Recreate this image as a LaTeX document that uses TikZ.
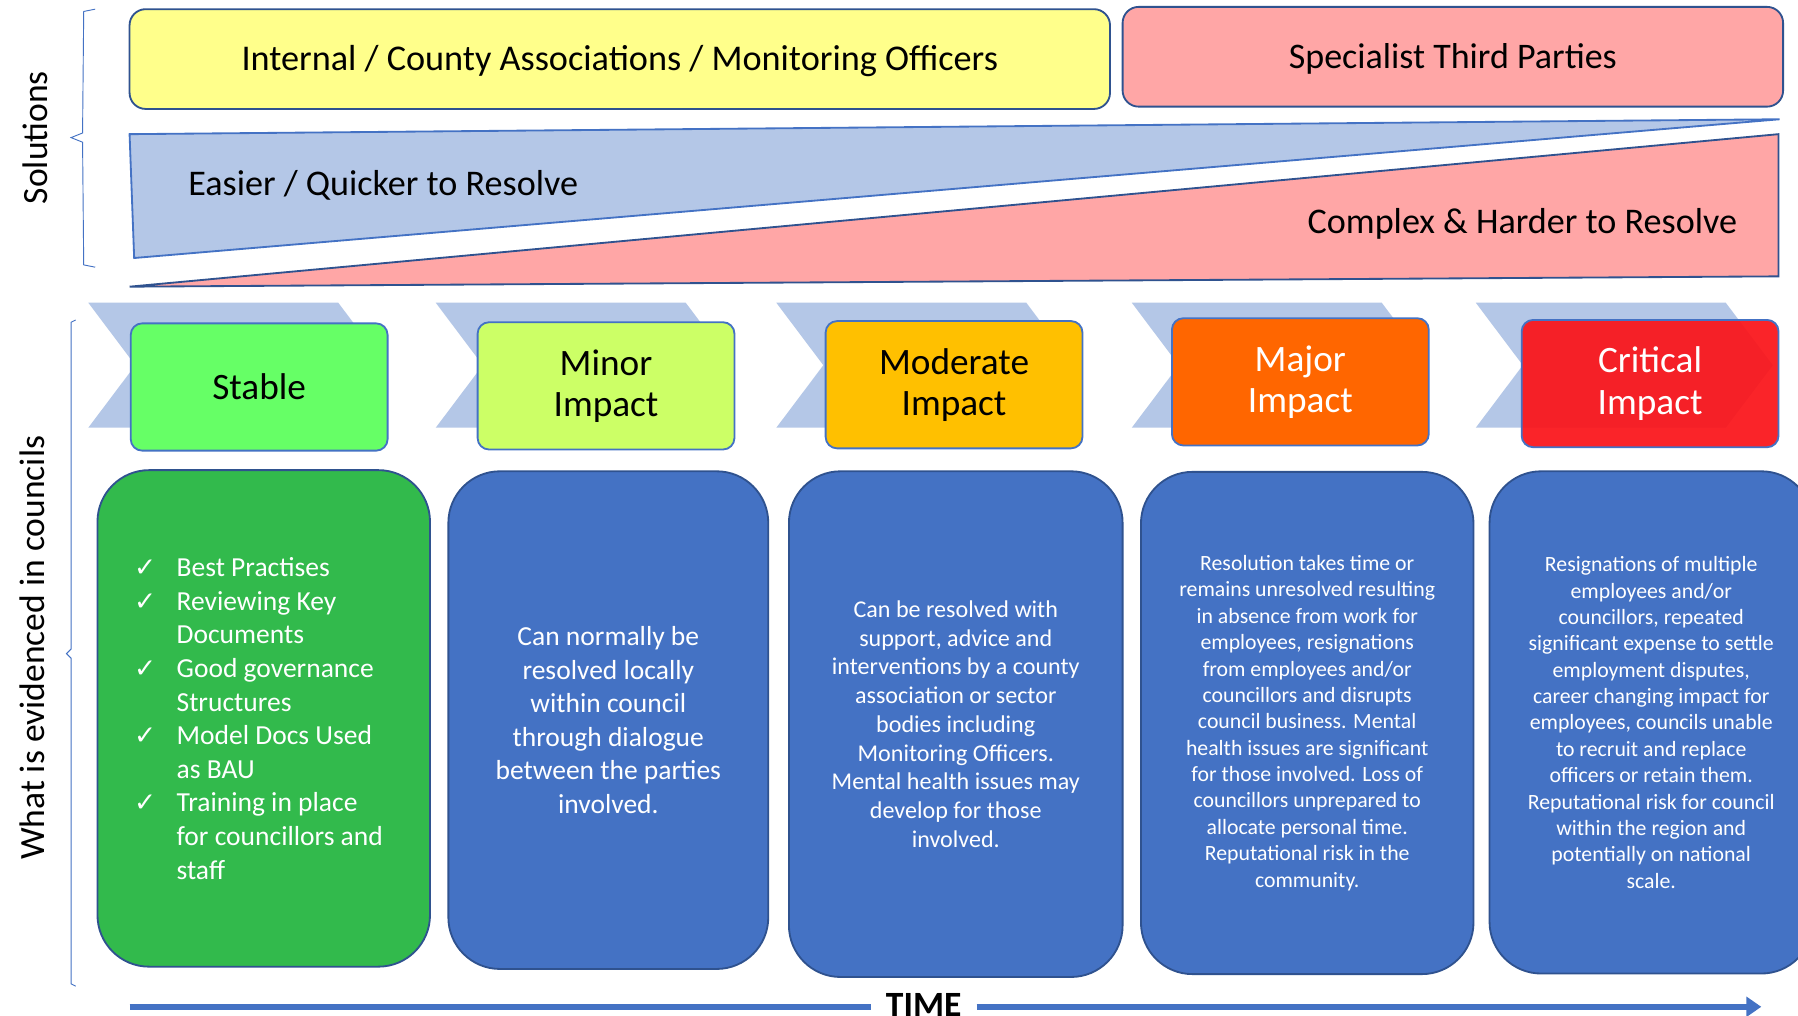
\documentclass[tikz,border=0pt]{standalone}
\usepackage{fontspec}
\setmainfont{Carlito}
\newfontfamily\symfont{DejaVu Sans}
\usetikzlibrary{arrows.meta}
\definecolor{dkblue}{HTML}{2F528F}
\definecolor{midblue}{HTML}{4472C4}
\definecolor{lightblue}{HTML}{B4C7E7}
\definecolor{pinkf}{HTML}{FFA6A6}
\definecolor{yellowf}{HTML}{FFFF8B}
\definecolor{stablef}{HTML}{66FF66}
\definecolor{minorf}{HTML}{CCFF66}
\definecolor{moderatef}{HTML}{FFC000}
\definecolor{majorf}{HTML}{FF6600}
\definecolor{criticalf}{HTML}{FA1419}
\definecolor{greenf}{HTML}{32BA4C}
\newcommand\chk{\makebox[37pt][l]{\symfont\fontsize{23}{23}\selectfont ✓}}
\newcommand\nochk{\hspace*{37pt}}
\begin{document}
\begin{tikzpicture}[x=1pt,y=-1pt,
  topbox/.style={draw=dkblue, line width=1.6pt, rounded corners=14pt, minimum height=87pt, inner sep=0pt, text height=24pt, text depth=4pt},
  level/.style={draw=midblue, line width=1.6pt, rounded corners=10pt, minimum width=224pt, minimum height=111pt, inner sep=0pt, align=center, font=\fontsize{32.5}{36}\selectfont},
  panel/.style={draw=dkblue, line width=1.6pt, rounded corners=45pt, fill=midblue, text=white, align=center, inner sep=0pt},
  chev/.style={fill=lightblue, draw=none},
  brace/.style={draw=midblue, line width=0.8pt},
  sidelabel/.style={rotate=90, font=\fontsize{31}{37}\selectfont},
  wedgetext/.style={font=\fontsize{31.5}{37}\selectfont, inner sep=0pt},
  timeline/.style={draw=midblue, line width=5pt}
]
\useasboundingbox (0,0) rectangle (1568,886);
\fill[white] (0,0) rectangle (1568,886);

% side braces and labels
\draw[brace] (83,8) -- (73,10) -- (72,116) -- (62,120) -- (72,124) -- (73,231) -- (83,233);
\node[sidelabel] (sol) at (31,120) {Solutions};
\draw[brace] (66,279) -- (62,281) -- (62,566) -- (58,570) -- (62,574) -- (62,858) -- (66,860);
\node[sidelabel] (wec) at (28,565) {What is evidenced in councils};

% top solution boxes
\node[topbox, fill=yellowf, minimum width=855pt, font=\fontsize{31.6}{37}\selectfont] (internal) at (540.5,51.5) {Internal / County Associations / Monitoring Officers};
\node[topbox, fill=pinkf, minimum width=576pt, font=\fontsize{31.4}{37}\selectfont] (specialist) at (1267,49.5) {Specialist Third Parties};

% wedges
\draw[fill=lightblue, draw=midblue, line width=1.6pt, line join=miter] (113,117) -- (1552,104) -- (117,225) -- cycle;
\draw[fill=pinkf, draw=dkblue, line width=1.6pt, line join=miter] (113,250) -- (1551,117) -- (1551,241) -- cycle;
\node[wedgetext, anchor=west] (easier) at (164,161.5) {Easier / Quicker to Resolve};
\node[wedgetext, anchor=east] (complex) at (1515,195.5) {Complex \& Harder to Resolve};

% chevrons
\foreach \x in {77,380,677,987,1287}{
  \fill[chev] (\x,264) -- (\x+218,264) -- (\x+259,318.5) -- (\x+218,373) -- (\x,373) -- (\x+41,318.5) -- cycle;
}

% level boxes
\node[level, fill=stablef] (stable) at (226,337.5) {Stable};
\node[level, fill=minorf] (minor) at (528.5,336.5) {Minor\\Impact};
\node[level, fill=moderatef] (moderate) at (832,335.5) {Moderate\\Impact};
\node[level, fill=majorf, text=white] (major) at (1134,333) {Major\\Impact};
\node[level, fill=criticalf, fill opacity=0.93, text opacity=1, text=white] (critical) at (1439,334.5) {Critical\\Impact};

% panels
\node[panel, fill=greenf, minimum width=290pt, minimum height=433pt, align=left, font=\fontsize{24}{29.3}\selectfont] (pstable) at (230,626.5) {%
\chk Best Practises\\
\chk Reviewing Key\\
\nochk Documents\\
\chk Good governance\\
\nochk Structures\\
\chk Model Docs Used\\
\nochk as BAU\\
\chk Training in place\\
\nochk for councillors and\rule{9pt}{0pt}\\
\nochk staff};
\node[panel, minimum width=279pt, minimum height=434pt, font=\fontsize{24}{29.3}\selectfont] (pminor) at (530.5,628) {Can normally be\\resolved locally\\within council\\through dialogue\\between the parties\\involved.};
\node[panel, minimum width=291pt, minimum height=441pt, font=\fontsize{21}{25.1}\selectfont] (pmoderate) at (833.5,631.5) {Can be resolved with\\support, advice and\\interventions by a county\\association or sector\\bodies including\\Monitoring Officers.\\Mental health issues may\\develop for those\\involved.};
\node[panel, minimum width=290pt, minimum height=438pt, font=\fontsize{19}{23}\selectfont] (pmajor) at (1140,630.5) {Resolution takes time or\\remains unresolved resulting\\in absence from work for\\employees, resignations\\from employees and/or\\councillors and disrupts\\council business. Mental\\health issues are significant\\for those involved. Loss of\\councillors unprepared to\\allocate personal time.\\Reputational risk in the\\community.};
\node[panel, minimum width=282pt, minimum height=438pt, font=\fontsize{19}{23}\selectfont] (pcritical) at (1440,630) {Resignations of multiple\\employees and/or\\councillors, repeated\\significant expense to settle\\employment disputes,\\career changing impact for\\employees, councils unable\\to recruit and replace\\officers or retain them.\\Reputational risk for council\\within the region and\\potentially on national\\scale.};

% time arrow
\coordinate (tstart) at (113,878);
\coordinate (tend) at (1536,878);
\node[font=\bfseries\fontsize{31}{37}\selectfont, inner xsep=13pt, inner ysep=0pt] (time) at (805.5,876) {TIME};
\draw[timeline] (tstart) -- (time.west |- tstart);
\draw[timeline, -{Triangle[length=13pt,width=17pt]}] (time.east |- tstart) -- (tend);
\end{tikzpicture}
\end{document}
